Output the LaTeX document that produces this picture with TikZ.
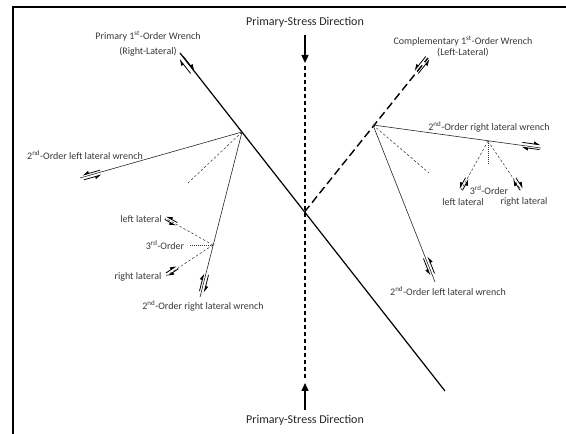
\documentclass[tikz,border=0pt]{standalone}
\usepackage{fontspec}
\setmainfont{Carlito}
\usetikzlibrary{arrows.meta,calc}
\tikzset{
  lbl/.style={font=\fontsize{10}{12}\selectfont, text=black!78, inner sep=0pt, align=center},
  big/.style={font=\fontsize{12}{14}\selectfont, text=black!85, inner sep=0pt},
  frame/.style={line width=1.6pt},
  mainfault/.style={line width=1.2pt},
  comp/.style={line width=1.4pt, dash pattern=on 8pt off 4pt},
  axis/.style={line width=1.1pt, dash pattern=on 4pt off 3pt},
  second/.style={line width=0.6pt, black!85},
  third/.style={line width=0.5pt, dash pattern=on 2.5pt off 2pt, black!80},
  dots/.style={line width=0.5pt, dash pattern=on 1pt off 1pt, black!80},
  stress/.style={line width=1.4pt, -{Triangle[length=8pt,width=7pt]}},
  half/.style={line width=0.8pt, -{Triangle[harpoon,length=5.5pt,width=5pt]}},
  halfs/.style={line width=0.8pt, -{Triangle[harpoon,swap,length=5.5pt,width=5pt]}},
  pics/dex/.style={code={
    \draw[half] (-9,2.4) -- (9,2.4);
    \draw[half] (9,-2.4) -- (-9,-2.4);
  }},
  pics/sin/.style={code={
    \draw[halfs] (9,2.4) -- (-9,2.4);
    \draw[halfs] (-9,-2.4) -- (9,-2.4);
  }},
}
\begin{document}
\begin{tikzpicture}[x=1pt,y=1pt]
\useasboundingbox (0,0) rectangle (566,434);
% frame
\coordinate (fa) at (13,0);
\coordinate (fb) at (13,427);
\coordinate (fc) at (566,427);
\draw[frame] (fa) -- (fb) -- (fc);

% primary stress
\node[big] (st) at (305,412) {Primary-Stress Direction};
\node[big] (sb) at (305,14) {Primary-Stress Direction};
\coordinate (ta) at (305,399);
\coordinate (tb) at (305,371);
\coordinate (ba) at (305,24);
\coordinate (bb) at (305,51);
\coordinate (xa) at (305,368);
\coordinate (xb) at (305,54);
\draw[stress] (ta) -- (tb);
\draw[stress] (ba) -- (bb);
\draw[axis] (xa) -- (xb);

% primary 1st order wrench
\coordinate (P1) at (180,381);
\coordinate (P2) at (445,43);
\coordinate (N1) at (242,302);
\coordinate (X) at (304.5,222);
\draw[mainfault] (P1) -- (P2);
\node[lbl] (lp1) at (148,398) {Primary 1\textsuperscript{st}-Order Wrench};
\node[lbl] (lp2) at (148,382) {(Right-Lateral)};
\pic[rotate=-51.9] at (187,369) {dex};

% complementary
\coordinate (C1) at (428,376);
\coordinate (N2) at (373,309);
\draw[comp] (X) -- (C1);
\node[lbl] (lc1) at (463,393) {Complementary 1\textsuperscript{st}-Order Wrench};
\node[lbl] (lc2) at (463,381) {(Left-Lateral)};
\pic[rotate=51.2] at (422,369) {sin};

% left branch
\coordinate (L1) at (80,256);
\coordinate (L2) at (200,137);
\coordinate (Ld) at (188,251);
\coordinate (T1) at (213,189);
\coordinate (T1a) at (165,216);
\coordinate (T1b) at (166,158);
\coordinate (T1c) at (190,189);
\draw[second] (N1) -- (L1);
\draw[second] (N1) -- (L2);
\draw[third] (N1) -- (Ld);
\draw[third] (T1) -- (T1a);
\draw[third] (T1) -- (T1b);
\draw[dots] (T1) -- (T1c);
\pic[rotate=15.9] at (92,259) {sin};
\pic[rotate=75.7] at (204,151) {dex};
\pic[rotate=-29.4,scale=0.7] at (171,213) {sin};
\pic[rotate=33.4,scale=0.7] at (172,163) {dex};
\node[lbl] (ll1) at (85,279) {2\textsuperscript{nd}-Order left lateral wrench};
\node[lbl] (ll2) at (203,128) {2\textsuperscript{nd}-Order right lateral wrench};
\node[lbl] (ll3) at (141,215) {left lateral};
\node[lbl] (ll4) at (165,189) {3\textsuperscript{rd}-Order};
\node[lbl] (ll5) at (138,157) {right lateral};

% right branch
\coordinate (R1) at (541,286);
\coordinate (R2) at (435,152);
\coordinate (Rd) at (429,261);
\coordinate (T2) at (488,293);
\coordinate (T2a) at (461,244);
\coordinate (T2b) at (521,244);
\coordinate (T2c) at (488,269);
\draw[second] (N2) -- (R1);
\draw[second] (N2) -- (R2);
\draw[third] (N2) -- (Rd);
\draw[third] (T2) -- (T2a);
\draw[third] (T2) -- (T2b);
\draw[dots] (T2) -- (T2c);
\pic[rotate=-7.8] at (531,288) {dex};
\pic[rotate=-68.4] at (429,168) {sin};
\pic[rotate=61.1,scale=0.7] at (464,250) {sin};
\pic[rotate=-56,scale=0.7] at (518,250) {dex};
\node[lbl] (lr1) at (489,307) {2\textsuperscript{nd}-Order right lateral wrench};
\node[lbl] (lr2) at (448,143) {2\textsuperscript{nd}-Order left lateral wrench};
\node[lbl] (lr3) at (489,244) {3\textsuperscript{rd}-Order};
\node[lbl] (lr4) at (463,232) {left lateral};
\node[lbl] (lr5) at (524,232) {right lateral};
\end{tikzpicture}
\end{document}
